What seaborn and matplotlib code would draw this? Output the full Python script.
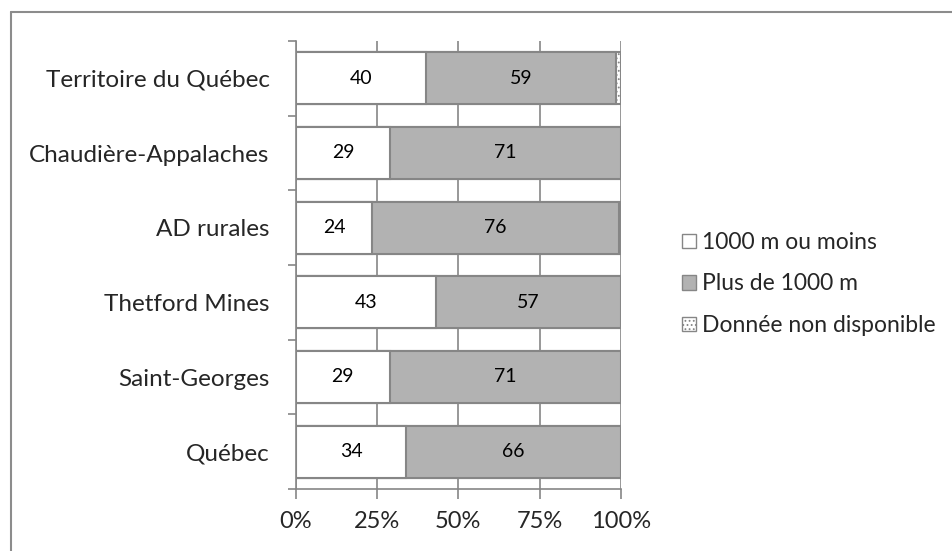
import matplotlib
matplotlib.use("Agg")
import matplotlib.pyplot as plt
from matplotlib.patches import Patch
from matplotlib.lines import Line2D
import numpy as np
import pandas as pd
import seaborn as sns

categories = ["Territoire du Québec", "Chaudière-Appalaches", "AD rurales",
              "Thetford Mines", "Saint-Georges", "Québec"]
moins_1000 = [39.9, 29.0, 23.5, 43.0, 28.8, 34.0]
plus_1000 = [58.8, 71.0, 76.0, 57.0, 71.2, 66.0]
non_dispo = [1.3, 0.0, 0.5, 0.0, 0.0, 0.0]
labels_moins = ["40", "29", "24", "43", "29", "34"]
labels_plus = ["59", "71", "76", "57", "71", "66"]
series_names = ["1000 m ou moins", "Plus de 1000 m", "Donnée non disponible"]
xticks = [0, 25, 50, 75, 100]
xtick_labels = ["0%", "25%", "50%", "75%", "100%"]

sns.set_theme(style="white")
FONT = ["Lato", "DejaVu Sans"]
plt.rcParams["font.family"] = FONT
plt.rcParams["hatch.color"] = "#9a9a9a"
plt.rcParams["hatch.linewidth"] = 0.8

df = pd.DataFrame({"cat": categories,
                   "a": moins_1000, "b": plus_1000, "c": non_dispo})
df["cum_a"] = df["a"]
df["cum_b"] = df["a"] + df["b"]
df["cum_c"] = df["a"] + df["b"] + df["c"]

fig = plt.figure(figsize=(9.53, 5.51), dpi=100)
ax = fig.add_axes([296/953, 1-489/551, (620.7-296)/953, (489-41)/551])

edge = "#868686"
# draw from total to first segment so each layer overlays
sns.barplot(data=df, x="cum_c", y="cat", order=categories, orient="h",
            color="white", width=0.7, edgecolor=edge, linewidth=1.5,
            ax=ax, hatch="....", saturation=1, zorder=3)
n_c = len(ax.patches)
sns.barplot(data=df, x="cum_b", y="cat", order=categories, orient="h",
            color="#b2b2b2", width=0.7, edgecolor=edge, linewidth=1.5,
            ax=ax, saturation=1, zorder=3)
sns.barplot(data=df, x="cum_a", y="cat", order=categories, orient="h",
            color="white", width=0.7, edgecolor=edge, linewidth=1.5,
            ax=ax, saturation=1, zorder=3)
for p in ax.patches[n_c:]:
    p.set_hatch(None)

# data labels
for i in range(len(categories)):
    ax.text(moins_1000[i] / 2, i, labels_moins[i], ha="center", va="center",
            fontsize=14, color="black", zorder=5)
    ax.text(moins_1000[i] + plus_1000[i] / 2, i, labels_plus[i], ha="center",
            va="center", fontsize=14, color="black", zorder=5)

ax.set_xlim(0, 100)
ax.set_ylim(len(categories) - 0.5, -0.5)
ax.set_xlabel("")
ax.set_ylabel("")
ax.set_xticks(xticks)
ax.set_xticklabels(xtick_labels, fontsize=17)
ax.xaxis.grid(True, color=edge, linewidth=1.2, zorder=0)
ax.set_axisbelow(True)

# y: tick marks at band boundaries, labels at centres
ax.set_yticks(np.arange(-0.5, len(categories), 1.0))
ax.set_yticklabels([])
ax.set_yticks(np.arange(len(categories)), minor=True)
ax.set_yticklabels(categories, minor=True, fontsize=17.5)
ax.tick_params(axis="y", which="major", direction="out", length=6,
               width=1.2, color=edge, left=True)
ax.tick_params(axis="y", which="minor", length=0, pad=19)
ax.tick_params(axis="x", which="major", direction="out", length=7,
               width=1.2, color=edge, bottom=True, pad=9)

for s in ["top", "right"]:
    ax.spines[s].set_visible(False)
for s in ["left", "bottom"]:
    ax.spines[s].set_color(edge)
    ax.spines[s].set_linewidth(1.2)

# legend
handles = [Patch(facecolor="white", edgecolor=edge, linewidth=1.0),
           Patch(facecolor="#b2b2b2", edgecolor=edge, linewidth=1.0),
           Patch(facecolor="white", edgecolor=edge, linewidth=1.0, hatch="....")]
fig.legend(handles, series_names, loc="center left",
           bbox_to_anchor=(673/953, 1-284/551), frameon=False, fontsize=16.5,
           handlelength=0.6, handleheight=0.6, handletextpad=0.25,
           labelspacing=0.9, borderaxespad=0)

# outer frame (partially visible)
fig.add_artist(Line2D([11.5/953, 1.0], [1-11.5/551, 1-11.5/551],
                      transform=fig.transFigure, color="#8c8c8c", linewidth=1.5))
fig.add_artist(Line2D([11.5/953, 11.5/953], [0, 1-11.5/551],
                      transform=fig.transFigure, color="#8c8c8c", linewidth=1.5))

fig.savefig("out.png", dpi=100)
